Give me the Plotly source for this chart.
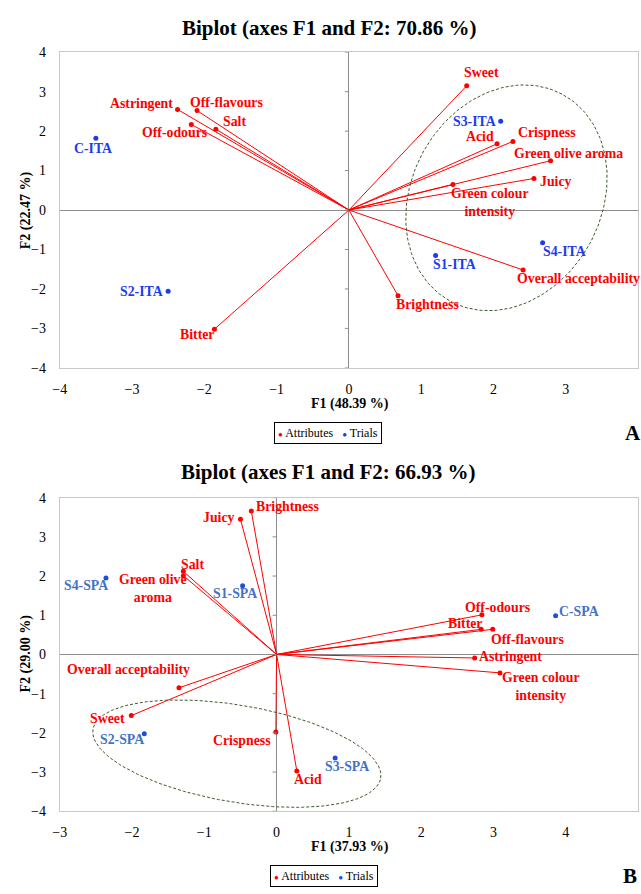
import numpy as np
import plotly.graph_objects as go

# ---------------- Panel A (Italian trials) ----------------
attr_a = ["Sweet", "Acid", "Crispness", "Green olive aroma", "Juicy",
          "Green colour<br>intensity", "Overall acceptability", "Brightness",
          "Astringent", "Off-flavours", "Salt", "Off-odours", "Bitter"]
attr_a_f1 = [1.63, 2.05, 2.27, 2.79, 2.56, 1.44, 2.41, 0.68, -2.37, -2.10, -1.84, -2.18, -1.86]
attr_a_f2 = [3.15, 1.68, 1.74, 1.25, 0.80, 0.65, -1.52, -2.17, 2.55, 2.52, 2.05, 2.17, -3.02]

trial_a = ["C-ITA", "S1-ITA", "S2-ITA", "S3-ITA", "S4-ITA"]
trial_a_f1 = [-3.50, 1.20, -2.50, 2.10, 2.68]
trial_a_f2 = [1.82, -1.15, -2.06, 2.25, -0.83]

# ---------------- Panel B (Spanish trials) ----------------
attr_b = ["Brightness", "Juicy", "Salt", "Green olive<br>aroma", "Overall acceptability",
          "Sweet", "Crispness", "Acid", "Off-odours", "Bitter", "Off-flavours",
          "Astringent", "Green colour<br>intensity"]
attr_b_f1 = [-0.35, -0.50, -1.29, -1.29, -1.35, -2.01, -0.01, 0.28, 2.84, 2.83, 2.99, 2.74, 3.09]
attr_b_f2 = [3.66, 3.45, 2.12, 2.01, -0.85, -1.56, -1.98, -2.97, 1.01, 0.64, 0.64, -0.09, -0.47]

trial_b = ["C-SPA", "S1-SPA", "S2-SPA", "S3-SPA", "S4-SPA"]
trial_b_f1 = [3.86, -0.47, -1.83, 0.81, -2.36]
trial_b_f2 = [0.99, 1.75, -2.02, -2.64, 1.95]

# Group ellipses: centre and two conjugate semi-axis vectors (F1, F2 units)
ell_a_center = (2.18, 0.31)
ell_a_u = (0.769, 2.628)
ell_a_v = (-1.161, 1.132)
ell_b_center = (-0.55, -2.53)
ell_b_u = (1.990, -0.625)
ell_b_v = (0.113, 1.219)

# Label placement: (xanchor, xshift px, yshift px)
lab_a = {
    "Sweet": ("center", 15, 13), "Acid": ("right", -1, 7), "Crispness": ("left", 3, 9),
    "Green olive aroma": ("center", 18, 7), "Juicy": ("left", 4, -3),
    "Green colour<br>intensity": ("center", 37, -18), "Overall acceptability": ("center", 55, -9),
    "Brightness": ("center", 29, -9), "Astringent": ("right", -3, 6),
    "Off-flavours": ("center", 29, 8), "Salt": ("center", 19, 8),
    "Off-odours": ("center", -16, -8), "Bitter": ("center", -17, -5),
    "C-ITA": ("center", -3, -10), "S1-ITA": ("center", 19, -9), "S2-ITA": ("right", -3, 0),
    "S3-ITA": ("right", -3, 0), "S4-ITA": ("center", 22, -9),
}
lab_b = {
    "Brightness": ("left", 3, 4), "Juicy": ("right", -3, 2), "Salt": ("center", 9, 7),
    "Green olive<br>aroma": ("center", -30, -13), "Overall acceptability": ("center", -50, 18),
    "Sweet": ("right", -4, -3), "Crispness": ("right", -3, -8), "Acid": ("center", 11, -9),
    "Off-odours": ("center", 16, 7), "Bitter": ("center", -16, 6),
    "Off-flavours": ("center", 35, -10), "Astringent": ("left", 2, 1),
    "Green colour<br>intensity": ("center", 41, -14),
    "C-SPA": ("left", 1, 4), "S1-SPA": ("center", -8, -8), "S2-SPA": ("center", -22, -6),
    "S3-SPA": ("center", 12, -9), "S4-SPA": ("center", -20, -8),
}

FONT = "Liberation Serif"
RED = "#ff0000"
BLUE_A = "#1c3cf0"
BLUE_B_TXT = "#4472c4"
BLUE_B_DOT = "#1f4fd8"
ELL = "#3d5a2a"
LABEL_SIZE = 13.8

W, H = 641, 894
PX0, PX1 = 53.3, 638.0


def ydom(top, bottom):
    return [1 - bottom / H, 1 - top / H]


fig = go.Figure()
annotations = []
shapes = []


def add_panel(xa, ya, f1, f2, names, t1, t2, tnames, labs, ell_c, ell_u, ell_v,
              tcol_txt, tcol_dot):
    # vectors from the origin
    lx, ly = [], []
    for a, b in zip(f1, f2):
        lx += [0, a, None]
        ly += [0, b, None]
    fig.add_trace(go.Scatter(x=lx, y=ly, mode="lines", xaxis=xa, yaxis=ya,
                             line=dict(color=RED, width=1), hoverinfo="skip",
                             showlegend=False))
    # ellipse
    t = np.linspace(0, 2 * np.pi, 200)
    ex = ell_c[0] + ell_u[0] * np.cos(t) + ell_v[0] * np.sin(t)
    ey = ell_c[1] + ell_u[1] * np.cos(t) + ell_v[1] * np.sin(t)
    fig.add_trace(go.Scatter(x=ex, y=ey, mode="lines", xaxis=xa, yaxis=ya,
                             line=dict(color=ELL, width=1, dash="3px,2px"),
                             hoverinfo="skip", showlegend=False))
    fig.add_trace(go.Scatter(x=f1, y=f2, mode="markers", xaxis=xa, yaxis=ya,
                             marker=dict(color=RED, size=5), name="Attributes",
                             text=names, showlegend=False))
    fig.add_trace(go.Scatter(x=t1, y=t2, mode="markers", xaxis=xa, yaxis=ya,
                             marker=dict(color=tcol_dot, size=5), name="Trials",
                             text=tnames, showlegend=False))
    for n, a, b in zip(names, f1, f2):
        anc, dx, dy = labs[n]
        annotations.append(dict(x=a, y=b, xref=xa, yref=ya, text="<b>%s</b>" % n,
                                showarrow=False, xanchor=anc, yanchor="middle",
                                xshift=dx, yshift=dy,
                                font=dict(family=FONT, size=LABEL_SIZE, color=RED)))
    for n, a, b in zip(tnames, t1, t2):
        anc, dx, dy = labs[n]
        annotations.append(dict(x=a, y=b, xref=xa, yref=ya, text="<b>%s</b>" % n,
                                showarrow=False, xanchor=anc, yanchor="middle",
                                xshift=dx, yshift=dy,
                                font=dict(family=FONT, size=LABEL_SIZE, color=tcol_txt)))


add_panel("x", "y", attr_a_f1, attr_a_f2, attr_a, trial_a_f1, trial_a_f2, trial_a,
          lab_a, ell_a_center, ell_a_u, ell_a_v, BLUE_A, BLUE_A)
add_panel("x2", "y2", attr_b_f1, attr_b_f2, attr_b, trial_b_f1, trial_b_f2, trial_b,
          lab_b, ell_b_center, ell_b_u, ell_b_v, BLUE_B_TXT, BLUE_B_DOT)

axis_common = dict(showgrid=False, zeroline=True, zerolinecolor="#8c8c8c", zerolinewidth=1,
                   showline=True, linecolor="#c8c8c8", linewidth=1, mirror=True,
                   dtick=1, ticks="", tickfont=dict(family=FONT, size=14, color="#000"),
                   fixedrange=True)

fig.update_layout(
    width=W, height=H, margin=dict(l=0, r=0, t=0, b=0),
    paper_bgcolor="white", plot_bgcolor="white", showlegend=False,
    xaxis=dict(domain=[PX0 / W, PX1 / W], range=[-4, 4], anchor="y",
               ticklabelstandoff=8, **axis_common),
    yaxis=dict(domain=ydom(46, 367), range=[-4, 4], anchor="x",
               ticklabelstandoff=10, **axis_common),
    xaxis2=dict(domain=[PX0 / W, PX1 / W], range=[-3, 5], anchor="y2",
                ticklabelstandoff=8, **axis_common),
    yaxis2=dict(domain=ydom(499, 818), range=[-4, 4], anchor="x2",
                ticklabelstandoff=10, **axis_common),
)

# small tick marks along the vertical zero line
for xa, ya in (("x", "y"), ("x2", "y2")):
    for k in range(-4, 5):
        shapes.append(dict(type="line", xref=xa, yref=ya, xsizemode="pixel", xanchor=0,
                           x0=-4, x1=0, y0=k, y1=k,
                           line=dict(color="#8c8c8c", width=1)))

titles = [("Biplot (axes F1 and F2: 70.86 %)", 326, 21.7),
          ("Biplot (axes F1 and F2: 66.93 %)", 325, 472.7)]
for txt, px, py in titles:
    annotations.append(dict(x=px / W, y=1 - py / H, xref="paper", yref="paper",
                            text="<b>%s</b>" % txt, showarrow=False,
                            xanchor="center", yanchor="middle",
                            font=dict(family=FONT, size=21, color="#000")))

for txt, px, py in (("F1 (48.39 %)", 346.5, 403.3), ("F1 (37.93 %)", 346.5, 854)):
    annotations.append(dict(x=px / W, y=1 - py / H, xref="paper", yref="paper",
                            text="<b>%s</b>" % txt, showarrow=False,
                            xanchor="center", yanchor="middle",
                            font=dict(family=FONT, size=14, color="#000")))

for txt, px, py in (("F2 (22.47 %)", 19.3, 206.7), ("F2 (29.00 %)", 19.3, 657.5)):
    annotations.append(dict(x=px / W, y=1 - py / H, xref="paper", yref="paper",
                            text="<b>%s</b>" % txt, showarrow=False, textangle=-90,
                            xanchor="center", yanchor="middle",
                            font=dict(family=FONT, size=14, color="#000")))

for txt, px, py in (("A", 633, 433), ("B", 630, 884)):
    annotations.append(dict(x=px / W, y=1 - py / H, xref="paper", yref="paper",
                            text="<b>%s</b>" % txt, showarrow=False,
                            xanchor="center", yanchor="middle",
                            font=dict(family=FONT, size=21, color="#000")))

# legend boxes
for px, py, tcol in ((325, 433, BLUE_A), (320, 884, BLUE_B_DOT)):
    txt = ("<span style='color:%s;font-size:8px'>●</span> Attributes   "
           "<span style='color:%s;font-size:8px'>●</span> Trials" % (RED, tcol))
    annotations.append(dict(x=px / W, y=1 - py / H, xref="paper", yref="paper",
                            text=txt, showarrow=False, xanchor="center", yanchor="middle",
                            bordercolor="#000", borderwidth=1, borderpad=3, bgcolor="white",
                            font=dict(family=FONT, size=12, color="#000")))

fig.update_layout(annotations=annotations, shapes=shapes)
fig.write_html("out.html")
